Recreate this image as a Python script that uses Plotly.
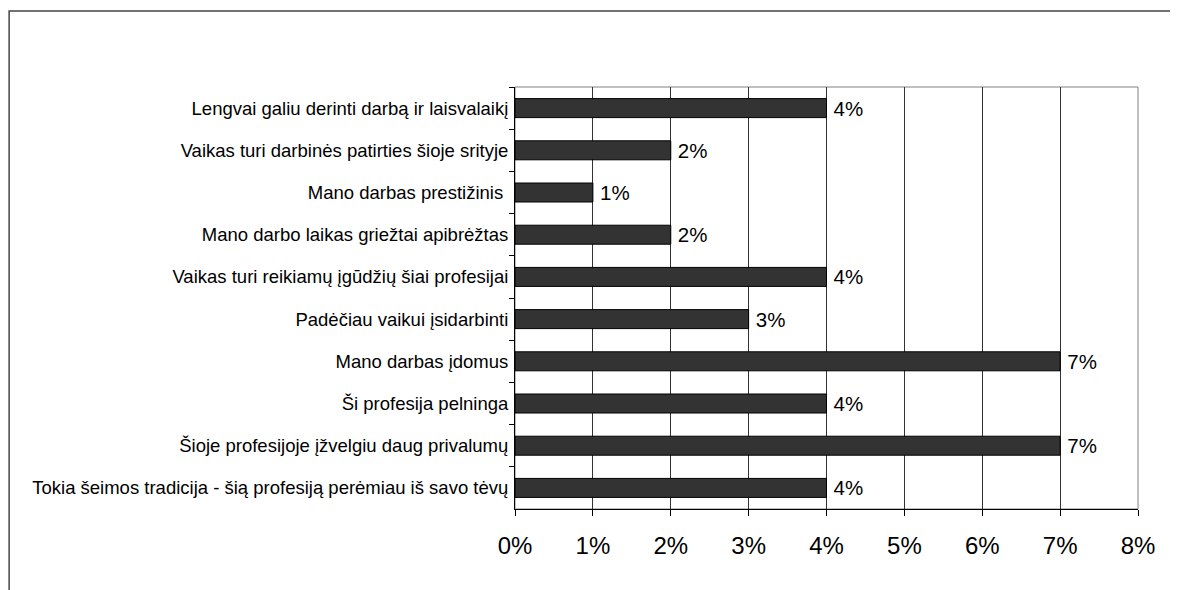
import plotly.graph_objects as go

categories = [
    "Lengvai galiu derinti darbą ir laisvalaikį",
    "Vaikas turi darbinės patirties šioje srityje",
    "Mano darbas prestižinis ",
    "Mano darbo laikas griežtai apibrėžtas",
    "Vaikas turi reikiamų įgūdžių šiai profesijai",
    "Padėčiau vaikui įsidarbinti",
    "Mano darbas įdomus",
    "Ši profesija pelninga",
    "Šioje profesijoje įžvelgiu daug privalumų",
    "Tokia šeimos tradicija - šią profesiją perėmiau iš savo tėvų",
]
values = [4, 2, 1, 2, 4, 3, 7, 4, 7, 4]
tick_vals = [0, 1, 2, 3, 4, 5, 6, 7, 8]
tick_text = ["0%", "1%", "2%", "3%", "4%", "5%", "6%", "7%", "8%"]

FONT = "Liberation Sans, Arial, sans-serif"

fig = go.Figure(
    go.Bar(
        x=values,
        y=categories,
        orientation="h",
        marker=dict(color="#333333", line=dict(color="#000000", width=1)),
        text=[f"\u2009{v}%" for v in values],
        textposition="outside",
        textfont=dict(family=FONT, size=20.5, color="#000000"),
        constraintext="none",
        cliponaxis=False,
        width=0.45,
    )
)

fig.update_layout(
    width=1170,
    height=582,
    margin=dict(l=507, r=40, t=79, b=81),
    paper_bgcolor="white",
    plot_bgcolor="white",
    showlegend=False,
    font=dict(family=FONT, color="#000000"),
    xaxis=dict(
        range=[0, 8],
        tickvals=tick_vals,
        ticktext=tick_text,
        tickfont=dict(size=24, family=FONT, color="#000000"),
        showgrid=True,
        gridcolor="#333333",
        gridwidth=1,
        showline=True,
        linecolor="#000000",
        linewidth=1,
        ticks="outside",
        ticklen=6,
        tickcolor="#000000",
        ticklabelstandoff=9,
        zeroline=False,
        fixedrange=True,
    ),
    yaxis=dict(
        autorange="reversed",
        tickfont=dict(size=18.5, family=FONT, color="#000000"),
        showline=True,
        linecolor="#000000",
        linewidth=1,
        ticks="outside",
        ticklen=5,
        tickcolor="#000000",
        tickson="boundaries",
        ticklabelstandoff=2,
        showgrid=False,
        fixedrange=True,
    ),
    shapes=[
        dict(type="rect", xref="paper", yref="paper", x0=0, x1=1, y0=0, y1=1,
             line=dict(color="#808080", width=1), layer="below"),
        dict(type="rect", xref="paper", yref="paper", x0=-0.812, x1=1.1, y0=-0.3, y1=1.18,
             line=dict(color="#444444", width=1.5), layer="below"),
    ],
)

fig.write_html("out.html")
